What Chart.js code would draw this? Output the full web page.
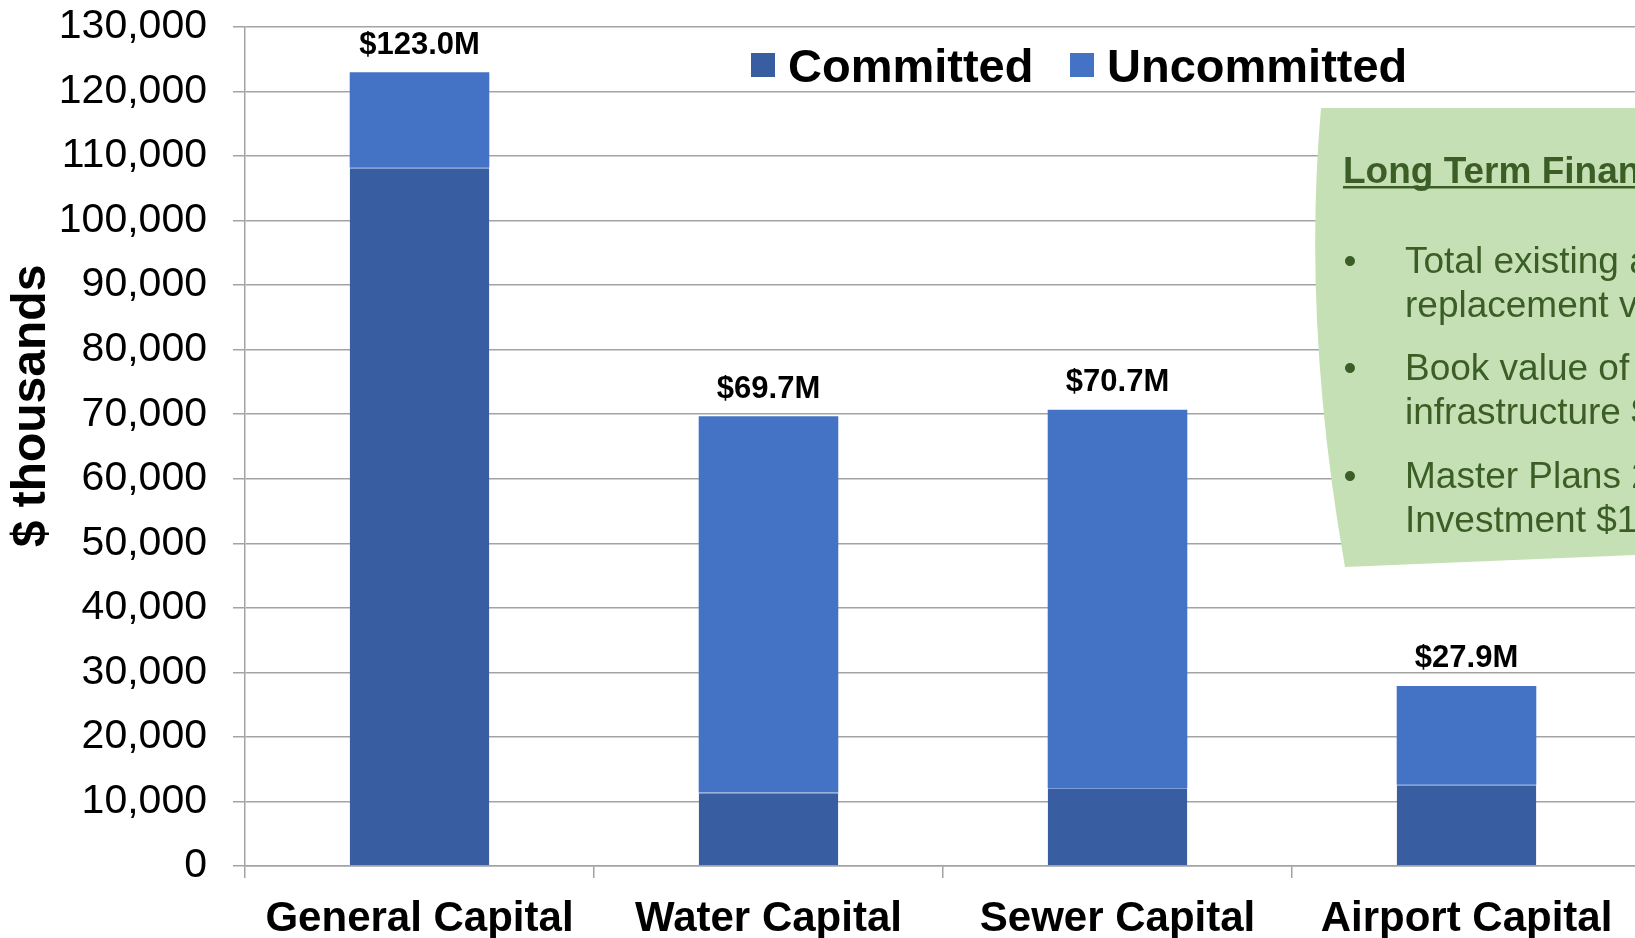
<!DOCTYPE html>
<html>
<head>
<meta charset="utf-8">
<title>Capital Budget</title>
<script src="https://cdn.jsdelivr.net/npm/chart.js@4.4.1/dist/chart.umd.min.js"></script>
<style>
  html, body { margin: 0; padding: 0; background: #fff; overflow: hidden; }
  #wrap { width: 1641px; height: 938px; }
</style>
</head>
<body>
<div id="wrap"><canvas id="capitalChart" width="1641" height="938"></canvas></div>
<script>
const categories = ["General Capital", "Water Capital", "Sewer Capital", "Airport Capital"];
const committed = [108200, 11400, 12100, 12600];
const uncommitted = [14800, 58300, 58600, 15300];
const seriesNames = ["Committed", "Uncommitted"];
const yTickValues = [0, 10000, 20000, 30000, 40000, 50000, 60000, 70000, 80000, 90000, 100000, 110000, 120000, 130000];
const axisTitle = "$ thousands";

const noteTitle = "Long Term Financial";
const noteBullets = [
  ["Total existing a", "replacement v"],
  ["Book value of", "infrastructure $"],
  ["Master Plans 2", "Investment $1"]
];

const FONT = "'Liberation Sans', Arial, sans-serif";
const GRID = "#a3a3a3";
const COLORS = ["#385EA1", "#4472C4"];

function formatThousands(v) {
  return String(v).replace(/\B(?=(\d{3})+(?!\d))/g, ",");
}

function drawTotals(chart) {
  const ctx = chart.ctx;
  const yScale = chart.scales.y;
  const meta = chart.getDatasetMeta(1);
  ctx.save();
  ctx.font = `bold 31px ${FONT}`;
  ctx.fillStyle = "#000";
  ctx.textAlign = "center";
  ctx.textBaseline = "middle";
  categories.forEach((cat, i) => {
    const total = committed[i] + uncommitted[i];
    const label = "$" + (total / 1000).toFixed(1) + "M";
    ctx.fillText(label, meta.data[i].x, yScale.getPixelForValue(total) - 27);
  });
  ctx.restore();
}

function drawLegend(chart) {
  const ctx = chart.ctx;
  const spots = [751, 1070];
  ctx.save();
  ctx.font = `bold 47px ${FONT}`;
  ctx.textBaseline = "alphabetic";
  ctx.textAlign = "left";
  chart.data.datasets.forEach((ds, i) => {
    ctx.fillStyle = ds.backgroundColor;
    ctx.fillRect(spots[i], 53, 24, 24);
    ctx.fillStyle = "#000";
    ctx.fillText(ds.label, spots[i] + 37, 82);
  });
  ctx.restore();
}

function drawAxisTitle(chart) {
  const ctx = chart.ctx;
  ctx.save();
  ctx.translate(32, 406);
  ctx.rotate(-Math.PI / 2);
  ctx.font = `bold 48px ${FONT}`;
  ctx.fillStyle = "#000";
  ctx.textAlign = "center";
  ctx.textBaseline = "middle";
  ctx.fillText(axisTitle, 0, 0);
  ctx.restore();
}

function drawNote(chart) {
  const ctx = chart.ctx;
  ctx.save();
  // green callout with the curved left edge
  ctx.beginPath();
  ctx.moveTo(1321, 108);
  ctx.lineTo(1660, 108);
  ctx.lineTo(1660, 554);
  ctx.lineTo(1345, 567);
  ctx.quadraticCurveTo(1302, 323, 1321, 108);
  ctx.closePath();
  ctx.fillStyle = "#C5E0B4";
  ctx.fill();

  ctx.fillStyle = "#3B5E26";
  ctx.textAlign = "left";
  ctx.textBaseline = "alphabetic";
  ctx.font = `bold 37px ${FONT}`;
  ctx.fillText(noteTitle, 1343, 183);
  const w = ctx.measureText(noteTitle).width;
  ctx.fillRect(1343, 186, w, 2.5);

  ctx.font = `37px ${FONT}`;
  const baselines = [273, 380, 488];
  noteBullets.forEach((lines, i) => {
    const y = baselines[i];
    ctx.textAlign = "center";
    ctx.fillText("\u2022", 1350, y);
    ctx.textAlign = "left";
    lines.forEach((line, j) => ctx.fillText(line, 1405, y + j * 44));
  });
  ctx.restore();
}

const overlayPlugin = {
  id: "overlay",
  afterDatasetsDraw(chart) {
    drawTotals(chart);
  },
  afterDraw(chart) {
    drawLegend(chart);
    drawAxisTitle(chart);
    drawNote(chart);
  }
};

function init() {
  const ctx = document.getElementById("capitalChart");
  new Chart(ctx, {
    type: "bar",
    data: {
      labels: categories,
      datasets: [
        {
          label: seriesNames[0],
          data: committed,
          backgroundColor: COLORS[0],
          borderColor: "#7d9bd6",
          borderWidth: { top: 1, right: 0, bottom: 0, left: 0 },
          borderSkipped: false
        },
        {
          label: seriesNames[1],
          data: uncommitted,
          backgroundColor: COLORS[1],
          borderWidth: 0
        }
      ]
    },
    options: {
      responsive: false,
      animation: false,
      datasets: { bar: { categoryPercentage: 1, barPercentage: 0.4 } },
      layout: { padding: 0 },
      plugins: {
        legend: { display: false },
        tooltip: { enabled: false }
      },
      scales: {
        x: {
          stacked: true,
          grid: { offset: true, drawOnChartArea: false, drawTicks: true, tickLength: 12, color: GRID, lineWidth: 1.5 },
          border: { color: GRID, width: 1.5 },
          ticks: { color: "#000", padding: 16, font: { family: FONT, size: 42, weight: "bold" } },
          afterFit(scale) { scale.height = 72; }
        },
        y: {
          stacked: true,
          min: yTickValues[0],
          max: yTickValues[yTickValues.length - 1],
          afterBuildTicks(scale) {
            scale.ticks = yTickValues.map(v => ({ value: v }));
          },
          grid: { color: GRID, lineWidth: 1.5, tickLength: 12 },
          border: { color: GRID, width: 1.5 },
          ticks: {
            color: "#000",
            padding: 26,
            font: { family: FONT, size: 41 },
            callback: v => formatThousands(v)
          },
          afterFit(scale) {
            scale.width = 245;
            scale.paddingTop = 27;
            scale.paddingBottom = 25;
          }
        }
      }
    },
    plugins: [overlayPlugin]
  });
}

document.addEventListener("DOMContentLoaded", init);
</script>
</body>
</html>
